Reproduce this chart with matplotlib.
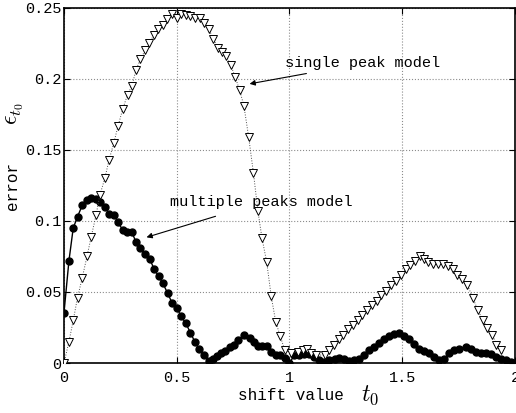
import matplotlib
matplotlib.use("Agg")
import matplotlib.pyplot as plt

# single peak model (triangles)
single_x = [0, 0.022, 0.041, 0.06, 0.081, 0.102, 0.121, 0.142, 0.159, 0.181,
            0.2, 0.221, 0.24, 0.261, 0.282, 0.301, 0.319, 0.339, 0.36, 0.379,
            0.398, 0.419, 0.438, 0.457, 0.479, 0.501, 0.521, 0.54, 0.561, 0.581,
            0.602, 0.622, 0.643, 0.662, 0.683, 0.702, 0.72, 0.739, 0.76, 0.779,
            0.798, 0.819, 0.84, 0.86, 0.878, 0.899, 0.919, 0.939, 0.959, 0.979,
            1.008, 1.037, 1.058, 1.078, 1.096, 1.118, 1.159, 1.174, 1.196, 1.218,
            1.239, 1.261, 1.28, 1.302, 1.322, 1.344, 1.364, 1.386, 1.407, 1.428,
            1.45, 1.472, 1.494, 1.516, 1.535, 1.556, 1.578, 1.597, 1.616, 1.638,
            1.66, 1.681, 1.704, 1.723, 1.745, 1.767, 1.789, 1.814, 1.836, 1.858,
            1.877, 1.9, 1.918, 1.936]
single_y = [0, 0.015, 0.030, 0.046, 0.060, 0.075, 0.089, 0.104, 0.118, 0.130,
            0.143, 0.155, 0.167, 0.179, 0.189, 0.195, 0.206, 0.214, 0.220, 0.225,
            0.231, 0.235, 0.238, 0.242, 0.246, 0.243, 0.246, 0.245, 0.244, 0.243,
            0.243, 0.239, 0.235, 0.228, 0.222, 0.219, 0.216, 0.210, 0.201, 0.192,
            0.181, 0.159, 0.134, 0.107, 0.088, 0.071, 0.047, 0.029, 0.019, 0.009,
            0.007, 0.008, 0.009, 0.010, 0.007, 0.0056, 0.0056, 0.009, 0.013, 0.017,
            0.020, 0.024, 0.027, 0.030, 0.034, 0.037, 0.041, 0.044, 0.048, 0.051,
            0.055, 0.058, 0.062, 0.066, 0.069, 0.072, 0.075, 0.073, 0.071, 0.070,
            0.070, 0.070, 0.0685, 0.066, 0.062, 0.059, 0.055, 0.0455, 0.037, 0.030,
            0.025, 0.020, 0.013, 0.009]

# multiple peaks model (dots)
multi_x = [0, 0.022, 0.041, 0.06, 0.081, 0.1, 0.119, 0.14, 0.159, 0.181,
           0.2, 0.221, 0.24, 0.26, 0.28, 0.301, 0.32, 0.339, 0.36, 0.381,
           0.4, 0.42, 0.439, 0.46, 0.479, 0.5, 0.519, 0.54, 0.561, 0.58,
           0.6, 0.621, 0.641, 0.66, 0.678, 0.698, 0.715, 0.735, 0.752, 0.771,
           0.8, 0.823, 0.841, 0.86, 0.879, 0.9, 0.919, 0.941, 0.959, 0.979,
           1.0, 1.022, 1.044, 1.066, 1.088, 1.11, 1.133, 1.155, 1.177, 1.2,
           1.22, 1.243, 1.265, 1.288, 1.31, 1.332, 1.354, 1.376, 1.398, 1.42,
           1.442, 1.465, 1.487, 1.509, 1.531, 1.553, 1.575, 1.597, 1.619, 1.642,
           1.664, 1.686, 1.708, 1.73, 1.752, 1.782, 1.804, 1.826, 1.848, 1.87,
           1.892, 1.914, 1.936, 1.959, 1.981, 2.0]
multi_y = [0.0354, 0.072, 0.095, 0.103, 0.111, 0.115, 0.116, 0.1155, 0.113, 0.110,
           0.105, 0.1045, 0.099, 0.0937, 0.0925, 0.092, 0.085, 0.081, 0.077, 0.073,
           0.066, 0.061, 0.056, 0.049, 0.0425, 0.039, 0.033, 0.028, 0.0213, 0.015,
           0.0096, 0.0056, 0.0014, 0.003, 0.005, 0.0068, 0.0085, 0.011, 0.013, 0.016,
           0.020, 0.0174, 0.015, 0.012, 0.012, 0.012, 0.008, 0.0056, 0.0056, 0.0033,
           0.0, 0.0056, 0.0056, 0.0063, 0.0063, 0.0045, 0.002, 0.001, 0.002, 0.003,
           0.0037, 0.003, 0.0014, 0.002, 0.003, 0.0056, 0.009, 0.0115, 0.014, 0.0167,
           0.019, 0.0205, 0.0208, 0.019, 0.0167, 0.0134, 0.0096, 0.0085, 0.0068, 0.0045,
           0.002, 0.003, 0.0068, 0.009, 0.010, 0.0115, 0.010, 0.008, 0.0068, 0.0073,
           0.0063, 0.0045, 0.003, 0.002, 0.001, 0.0]

xticks = [0, 0.5, 1, 1.5, 2]
xtick_labels = ["0", "0.5", "1", "1.5", "2"]
yticks = [0, 0.05, 0.1, 0.15, 0.2, 0.25]
ytick_labels = ["0", "0.05", "0.1", "0.15", "0.2", "0.25"]

mono = "Liberation Mono"
plt.rcParams["mathtext.fontset"] = "cm"

fig = plt.figure(figsize=(5.16, 4.13), dpi=100)
ax = fig.add_axes([0.124, 0.121, 0.874, 0.860])

ax.plot(multi_x, multi_y, "-", color="black", lw=1.0, marker="o",
        markersize=5, markerfacecolor="black", markeredgecolor="black", zorder=3)
ax.plot(single_x, single_y, ":", color="0.3", lw=0.7, marker="v",
        markersize=5.5, markerfacecolor="white", markeredgecolor="black",
        markeredgewidth=0.7, zorder=4)

ax.set_xlim(0, 2)
ax.set_ylim(0, 0.25)
ax.set_xticks(xticks)
ax.set_xticklabels(xtick_labels, fontfamily=mono, fontsize=11)
ax.set_yticks(yticks)
ax.set_yticklabels(ytick_labels, fontfamily=mono, fontsize=11)
ax.tick_params(direction="in", top=True, right=True, length=4, width=0.8)
ax.tick_params(axis="x", pad=6)
ax.tick_params(axis="y", pad=2)
ax.grid(True, linestyle=":", color="0.55", lw=0.8)
ax.set_axisbelow(True)
for s in ax.spines.values():
    s.set_linewidth(1.2)

# labels
fig.text(291 / 516, 1 - 400 / 413, "shift value", family=mono, fontsize=11.5,
         ha="center", va="baseline")
fig.text(370 / 516, 1 - 401 / 413, "$t_0$", fontsize=17, ha="center", va="baseline")
fig.text(13 / 516, 1 - 186 / 413, "error", family=mono, fontsize=11.5,
         rotation=90, ha="center", va="center")
fig.text(14 / 516, 1 - 114 / 413, r"$\epsilon_{t_0}$", fontsize=17,
         rotation=90, ha="center", va="center")

# annotations
ax.annotate("single peak model", xy=(0.823, 0.1965), xytext=(0.982, 0.211),
            family=mono, fontsize=11, ha="left", va="center",
            arrowprops=dict(arrowstyle="-|>", color="black", lw=0.8,
                            mutation_scale=8, shrinkA=2, shrinkB=0))
ax.annotate("multiple peaks model", xy=(0.366, 0.0885), xytext=(0.469, 0.113),
            family=mono, fontsize=11, ha="left", va="center",
            arrowprops=dict(arrowstyle="-|>", color="black", lw=0.8,
                            mutation_scale=8, shrinkA=10, shrinkB=0))

fig.savefig("out.png", dpi=100)
